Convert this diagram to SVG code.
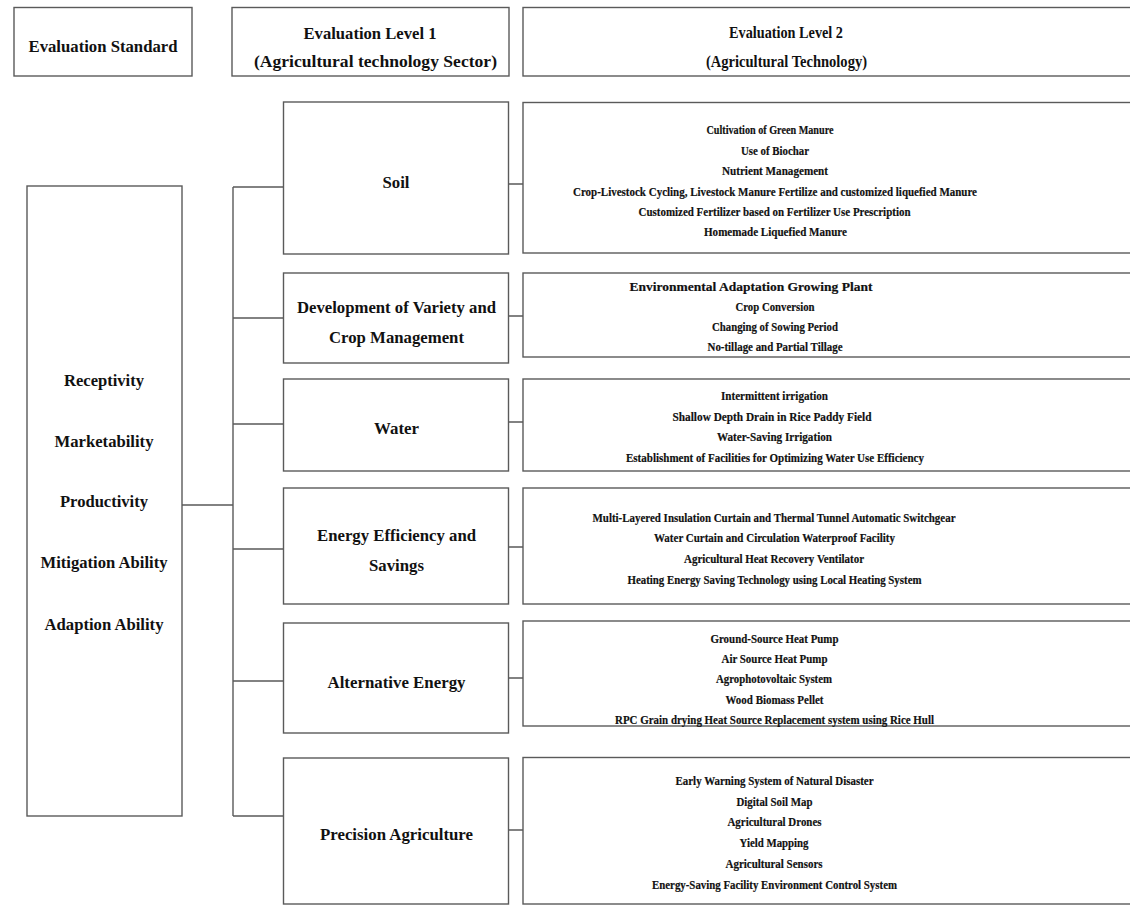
<svg xmlns="http://www.w3.org/2000/svg" width="1130" height="905" viewBox="0 0 1130 905">
<style>
.box{fill:#fff;stroke:#5a5a5a;stroke-width:1.4}
.ln{stroke:#5a5a5a;stroke-width:1.4;fill:none}
text{font-family:"Liberation Serif","Times New Roman",serif;font-weight:bold;fill:#111;text-anchor:middle}
.h{font-size:17px}
.m{font-size:17px}
.r{font-size:13.5px;stroke:#111;stroke-width:0.2}
</style>
<rect x="0" y="0" width="1130" height="905" fill="#fff"/>
<g id="header-standard">
<rect class="box" x="14" y="7.5" width="178" height="68.5"/>
<text class="h" x="103" y="52" textLength="149" lengthAdjust="spacingAndGlyphs">Evaluation Standard</text>
</g>
<g id="header-level1">
<rect class="box" x="232" y="7.5" width="277" height="68.5"/>
<text class="h" x="370" y="38.5" textLength="133" lengthAdjust="spacingAndGlyphs">Evaluation Level 1</text>
<text class="h" x="375.5" y="67" textLength="243" lengthAdjust="spacingAndGlyphs">(Agricultural technology Sector)</text>
</g>
<g id="header-level2">
<rect class="box" x="523" y="7.5" width="620" height="68.5"/>
<text class="h" x="786" y="37.5" textLength="114" lengthAdjust="spacingAndGlyphs">Evaluation Level 2</text>
<text class="h" x="786.5" y="67" textLength="161" lengthAdjust="spacingAndGlyphs">(Agricultural Technology)</text>
</g>
<g id="standard">
<rect class="box" x="27" y="186" width="155" height="630"/>
<text class="m" x="104" y="386" textLength="80" lengthAdjust="spacingAndGlyphs">Receptivity</text>
<text class="m" x="104" y="447" textLength="99" lengthAdjust="spacingAndGlyphs">Marketability</text>
<text class="m" x="104" y="507" textLength="88" lengthAdjust="spacingAndGlyphs">Productivity</text>
<text class="m" x="104" y="568" textLength="127" lengthAdjust="spacingAndGlyphs">Mitigation Ability</text>
<text class="m" x="104" y="630" textLength="119" lengthAdjust="spacingAndGlyphs">Adaption Ability</text>
</g>
<g id="connectors">
<path class="ln" d="M182 505H233M233 187V816M233 187H283.5M233 318H283.5M233 424H283.5M233 549H283.5M233 681H283.5M233 816H283.5"/>
<path class="ln" d="M508.5 184H523M508.5 316H523M508.5 422H523M508.5 547H523M508.5 678H523M508.5 830H523"/>
</g>
<g id="sector-soil">
<rect class="box" x="283.5" y="102" width="225" height="152"/>
<text class="m" x="396" y="188" textLength="27" lengthAdjust="spacingAndGlyphs">Soil</text>
</g>
<g id="sector-variety">
<rect class="box" x="283.5" y="273" width="225" height="90"/>
<text class="m" x="396.5" y="313" textLength="199" lengthAdjust="spacingAndGlyphs">Development of Variety and</text>
<text class="m" x="396.5" y="343" textLength="135" lengthAdjust="spacingAndGlyphs">Crop Management</text>
</g>
<g id="sector-water">
<rect class="box" x="283.5" y="379" width="225" height="92"/>
<text class="m" x="396.5" y="434" textLength="45" lengthAdjust="spacingAndGlyphs">Water</text>
</g>
<g id="sector-energy">
<rect class="box" x="283.5" y="488" width="225" height="116"/>
<text class="m" x="396.5" y="541" textLength="159" lengthAdjust="spacingAndGlyphs">Energy Efficiency and</text>
<text class="m" x="396.5" y="571" textLength="55" lengthAdjust="spacingAndGlyphs">Savings</text>
</g>
<g id="sector-alternative">
<rect class="box" x="283.5" y="623" width="225" height="110"/>
<text class="m" x="396.5" y="688" textLength="138" lengthAdjust="spacingAndGlyphs">Alternative Energy</text>
</g>
<g id="sector-precision">
<rect class="box" x="283.5" y="758" width="225" height="146"/>
<text class="m" x="396.5" y="840" textLength="153" lengthAdjust="spacingAndGlyphs">Precision Agriculture</text>
</g>
<g id="tech-soil">
<rect class="box" x="523" y="102.5" width="620" height="150.5"/>
<text class="r" x="770" y="134" textLength="127" lengthAdjust="spacingAndGlyphs">Cultivation of Green Manure</text>
<text class="r" x="775" y="155" textLength="68" lengthAdjust="spacingAndGlyphs">Use of Biochar</text>
<text class="r" x="775" y="175" textLength="106" lengthAdjust="spacingAndGlyphs">Nutrient  Management</text>
<text class="r" x="775" y="196" textLength="404" lengthAdjust="spacingAndGlyphs">Crop-Livestock  Cycling, Livestock Manure Fertilize and customized liquefied Manure</text>
<text class="r" x="774.5" y="216" textLength="272" lengthAdjust="spacingAndGlyphs">Customized  Fertilizer based on Fertilizer Use Prescription</text>
<text class="r" x="775.5" y="236" textLength="143" lengthAdjust="spacingAndGlyphs">Homemade  Liquefied Manure</text>
</g>
<g id="tech-variety">
<rect class="box" x="523" y="273" width="620" height="84"/>
<text class="r" x="751" y="291" textLength="243" lengthAdjust="spacingAndGlyphs">Environmental Adaptation Growing Plant</text>
<text class="r" x="775" y="311" textLength="79" lengthAdjust="spacingAndGlyphs">Crop Conversion</text>
<text class="r" x="775" y="331" textLength="126" lengthAdjust="spacingAndGlyphs">Changing of Sowing Period</text>
<text class="r" x="775" y="351" textLength="135" lengthAdjust="spacingAndGlyphs">No-tillage and Partial Tillage</text>
</g>
<g id="tech-water">
<rect class="box" x="523" y="379" width="620" height="92"/>
<text class="r" x="774.5" y="400" textLength="107" lengthAdjust="spacingAndGlyphs">Intermittent  irrigation</text>
<text class="r" x="772" y="421" textLength="199" lengthAdjust="spacingAndGlyphs">Shallow Depth  Drain in Rice Paddy Field</text>
<text class="r" x="774.5" y="441" textLength="115" lengthAdjust="spacingAndGlyphs">Water-Saving  Irrigation</text>
<text class="r" x="775" y="462" textLength="298" lengthAdjust="spacingAndGlyphs">Establishment  of Facilities for Optimizing Water Use Efficiency</text>
</g>
<g id="tech-energy">
<rect class="box" x="523" y="488" width="620" height="116"/>
<text class="r" x="774" y="522" textLength="363" lengthAdjust="spacingAndGlyphs">Multi-Layered Insulation Curtain and Thermal Tunnel Automatic Switchgear</text>
<text class="r" x="774.5" y="542" textLength="241" lengthAdjust="spacingAndGlyphs">Water Curtain and Circulation Waterproof Facility</text>
<text class="r" x="774" y="563" textLength="180" lengthAdjust="spacingAndGlyphs">Agricultural Heat Recovery Ventilator</text>
<text class="r" x="774.5" y="584" textLength="294" lengthAdjust="spacingAndGlyphs">Heating Energy Saving Technology using Local Heating System</text>
</g>
<g id="tech-alternative">
<rect class="box" x="523" y="621" width="620" height="105"/>
<text class="r" x="774.5" y="643" textLength="128" lengthAdjust="spacingAndGlyphs">Ground-Source Heat Pump</text>
<text class="r" x="774.5" y="663" textLength="106" lengthAdjust="spacingAndGlyphs">Air Source Heat Pump</text>
<text class="r" x="774" y="683" textLength="116" lengthAdjust="spacingAndGlyphs">Agrophotovoltaic System</text>
<text class="r" x="774.5" y="704" textLength="98" lengthAdjust="spacingAndGlyphs">Wood Biomass Pellet</text>
<text class="r" x="774.5" y="724" textLength="319" lengthAdjust="spacingAndGlyphs">RPC Grain  drying Heat Source Replacement system using Rice Hull</text>
</g>
<g id="tech-precision">
<rect class="box" x="523" y="757.5" width="620" height="146.5"/>
<text class="r" x="774.5" y="785" textLength="198" lengthAdjust="spacingAndGlyphs">Early Warning System of Natural Disaster</text>
<text class="r" x="774.5" y="806" textLength="76" lengthAdjust="spacingAndGlyphs">Digital Soil Map</text>
<text class="r" x="774.5" y="826" textLength="94" lengthAdjust="spacingAndGlyphs">Agricultural Drones</text>
<text class="r" x="774" y="847" textLength="69" lengthAdjust="spacingAndGlyphs">Yield Mapping</text>
<text class="r" x="774" y="868" textLength="97" lengthAdjust="spacingAndGlyphs">Agricultural Sensors</text>
<text class="r" x="774.5" y="889" textLength="245" lengthAdjust="spacingAndGlyphs">Energy-Saving Facility Environment Control System</text>
</g>
</svg>
